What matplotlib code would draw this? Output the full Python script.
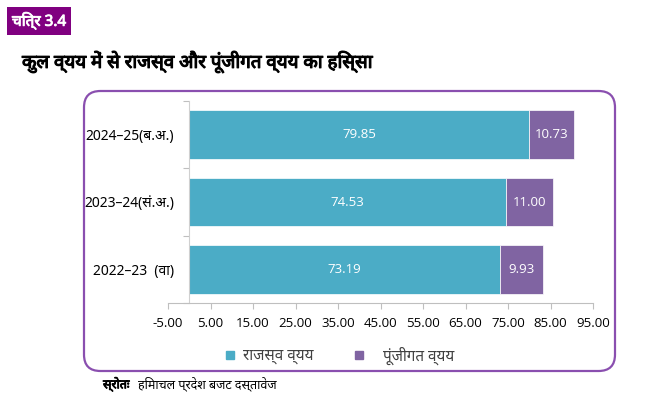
import matplotlib
matplotlib.use("Agg")
import matplotlib.pyplot as plt
import matplotlib.patheffects as pe
from matplotlib.patches import FancyBboxPatch, Rectangle

categories = ["2022–23  (वा)", "2023–24(सं.अ.)", "2024–25(ब.अ.)"]
revenue = [73.19, 74.53, 79.85]
capital = [9.93, 11.00, 10.73]
xticks = [-5, 5, 15, 25, 35, 45, 55, 65, 75, 85, 95]
series_names = ["राजस्व व्यय", "पूंजीगत व्यय"]
title = "कुल व्यय में से राजस्व और पूंजीगत व्यय का हिस्सा"
fig_label = "चित्र 3.4"
source_bold = "स्रोतः"
source_text = "हिमाचल प्रदेश बजट दस्तावेज"

plt.rcParams['font.family'] = ['Noto Sans', 'Noto Sans Devanagari', 'Lohit Devanagari', 'DejaVu Sans']

W, H = 657, 394
fig = plt.figure(figsize=(W / 100, H / 100), dpi=100)

def fx(px):
    return px / W

def fy(py):
    return 1 - py / H

def faux_bold(color, lw=0.7):
    return [pe.withStroke(linewidth=lw, foreground=color)]

# rounded frame
frame = FancyBboxPatch((fx(84), fy(371)), fx(615) - fx(84), fy(91) - fy(371),
                       boxstyle="round,pad=0,rounding_size=0.025",
                       transform=fig.transFigure, fill=False,
                       edgecolor="#8A4FAF", linewidth=1.6, mutation_aspect=W / H)
fig.patches.append(frame)

ax = fig.add_axes([fx(168), fy(303), fx(593) - fx(168), fy(101) - fy(303)])
teal = "#4BACC6"
purple = "#8064A2"
y = range(len(categories))
ax.barh(y, revenue, height=0.72, color=teal, edgecolor="white", linewidth=0.5)
ax.barh(y, capital, left=revenue, height=0.72, color=purple, edgecolor="white", linewidth=0.5)
for i, (r, c) in enumerate(zip(revenue, capital)):
    ax.text(r / 2, i, f"{r:.2f}", color="white", ha="center", va="center", fontsize=9.5,
            family=["Open Sans", "DejaVu Sans"])
    ax.text(r + c / 2, i, f"{c:.2f}", color="white", ha="center", va="center", fontsize=9.5,
            family=["Open Sans", "DejaVu Sans"])

ax.set_xlim(-5, 95)
ax.set_ylim(-0.5, 2.5)
ax.set_xticks(xticks)
ax.set_xticklabels([f"{v:.2f}" for v in xticks], fontsize=9.5, family=["Open Sans", "DejaVu Sans"])
ax.set_yticks([-0.5, 0.5, 1.5, 2.5])
ax.set_yticklabels([])
ax.set_yticks(list(y), minor=True)
ax.set_yticklabels(categories, minor=True, fontsize=10)
ax.tick_params(axis="y", which="minor", length=0, pad=11)
ax.tick_params(axis="y", which="major", length=4, color="#BFBFBF")
ax.tick_params(axis="x", length=4, color="#BFBFBF", pad=6)
for s in ["top", "right"]:
    ax.spines[s].set_visible(False)
ax.spines["left"].set_position(("data", 0))
ax.spines["left"].set_color("#D0D0D0")
ax.spines["bottom"].set_color("#BFBFBF")

# legend
fig.patches.append(Rectangle((fx(226), fy(359)), fx(8), 8 / H,
                             transform=fig.transFigure, color=teal))
fig.text(fx(243), fy(356), series_names[0], fontsize=11, va="center", ha="left", color="#404040")
fig.patches.append(Rectangle((fx(355), fy(359)), fx(8), 8 / H,
                             transform=fig.transFigure, color=purple))
fig.text(fx(383), fy(356), series_names[1], fontsize=11, va="center", ha="left", color="#404040")

# figure label
fig.text(fx(12), fy(21), fig_label, fontsize=11, fontweight="bold", color="white", va="center", ha="left",
         bbox=dict(boxstyle="square,pad=0.3", facecolor="#800080", edgecolor="none"),
         path_effects=faux_bold("white", 0.6))
# title
fig.text(fx(22), fy(62), title, fontsize=13.5, fontweight="bold", color="black", va="center", ha="left",
         path_effects=faux_bold("black", 0.8))
# source
fig.text(fx(103), fy(384), source_bold, fontsize=9, fontweight="bold", va="center", ha="left",
         path_effects=faux_bold("black", 0.6))
fig.text(fx(138), fy(384), source_text, fontsize=9, va="center", ha="left")

fig.savefig("out.png", dpi=100)
